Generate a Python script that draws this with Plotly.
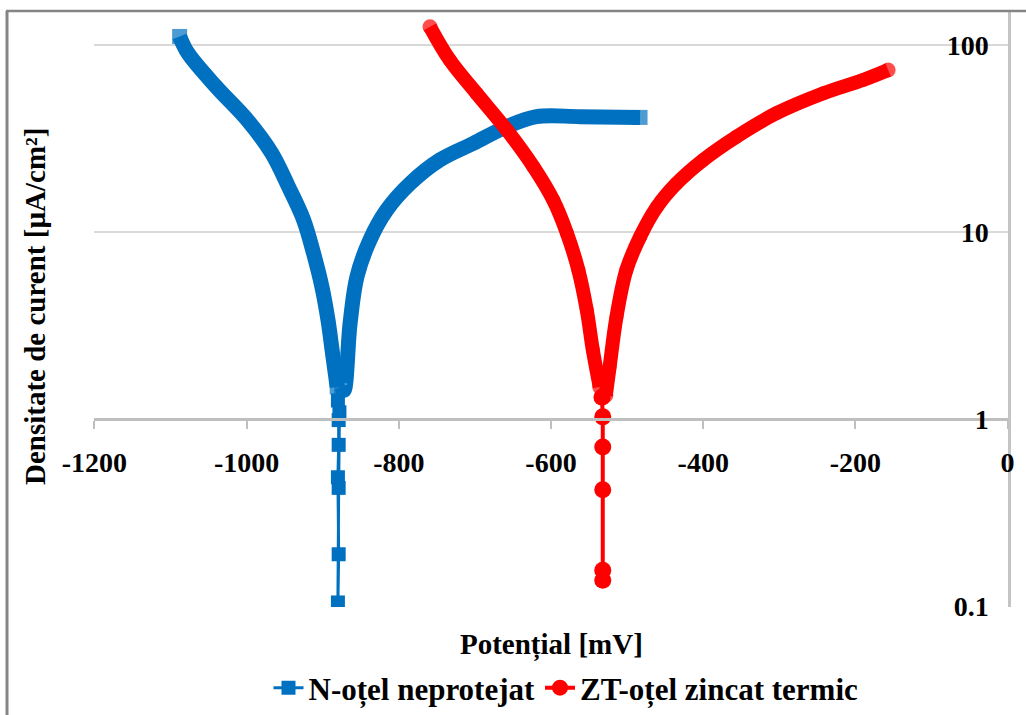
import plotly.graph_objects as go

# ---- data (Potential mV, current density uA/cm2) ----
# N - otel neprotejat (blue)
n_cath_E = [-1088, -1077, -1040, -999, -967, -945, -925, -912, -901, -893, -887, -881]
n_cath_i = [111, 90.3, 59.8, 39.7, 26.4, 17.5, 11.6, 7.7, 5.1, 3.38, 2.24, 1.49]
n_tail_E = [-880, -879, -879, -880, -879, -880, -879, -878]
n_tail_i = [1.26, 0.99, 0.73, 0.49, 0.19, 0.105, 0.43, 1.09]
n_anod_E = [-875, -872, -864, -855, -838, -816, -785, -746, -702, -658, -619, -562, -483]
n_anod_i = [1.49, 1.43, 3.25, 5.77, 9.06, 13.1, 18.2, 24.3, 29.8, 36.6, 41.4, 41.4, 41.0]

# ZT - otel zincat termic (red)
z_cath_E = [-759, -733, -698, -658, -623, -597, -579, -564, -553, -545, -536]
z_cath_i = [125, 83, 55.2, 35.1, 22.3, 14.8, 9.84, 6.26, 3.83, 2.34, 1.49]
z_tail_E = [-534, -533, -532, -532, -532, -532, -532]
z_tail_i = [1.68, 1.31, 1.03, 0.71, 0.42, 0.156, 0.138]
z_anod_E = [-528, -523, -514, -501, -483, -461, -435, -400, -356, -304, -242, -190, -157]
z_anod_i = [1.34, 1.90, 3.52, 6.26, 9.43, 13.6, 18.2, 24.3, 32.4, 43.1, 55.2, 65, 73.5]

x_ticks = [-1200, -1000, -800, -600, -400, -200, 0]
x_ticktext = ["-1200", "-1000", "-800", "-600", "-400", "-200", "0"]
y_ticks = [0.1, 1, 10, 100]
y_ticktext = ["0.1", "1", "10", "100"]

name_n = "N-oțel neprotejat"
name_z = "ZT-oțel zincat termic"
BLUE = "#0070C0"
RED = "#FF0000"
FONT = "Liberation Serif, Times New Roman, Times, DejaVu Serif, serif"

fig = go.Figure()

def band(E, I, color, symbol, width, msize, endsize, group):
    sizes = [msize] * len(E)
    sizes[0] = endsize
    sizes[-1] = endsize
    fig.add_trace(go.Scatter(
        x=E, y=I, mode="lines+markers", legendgroup=group, showlegend=False,
        line=dict(color=color, width=width, shape="spline", smoothing=1.0),
        marker=dict(color=color, symbol=symbol, size=sizes, line=dict(width=0)),
        hoverinfo="skip"))

def tail(E, I, color, symbol, lw, ms, name, group):
    fig.add_trace(go.Scatter(
        x=E, y=I, mode="lines+markers", legendgroup=group, name=name,
        line=dict(color=color, width=lw),
        marker=dict(color=color, symbol=symbol, size=ms, line=dict(width=0))))

band(n_cath_E, n_cath_i, BLUE, "square", 15, 9, 15, "n")
band(n_anod_E, n_anod_i, BLUE, "square", 15, 9, 15, "n")
tail(n_tail_E, n_tail_i, BLUE, "square", 3, 14, name_n, "n")

band(z_cath_E, z_cath_i, RED, "circle", 14, 14, 15, "z")
band(z_anod_E, z_anod_i, RED, "circle", 14, 14, 15, "z")
tail(z_tail_E, z_tail_i, RED, "circle", 4, 17, name_z, "z")

YMIN_LOG = -1.003
YMAX_LOG = 2.176
x_pos = (0 - YMIN_LOG) / (YMAX_LOG - YMIN_LOG)

tick_font = dict(family=FONT, size=28, color="black", weight="bold")
title_font = dict(family=FONT, size=29, color="black", weight="bold")
legend_font = dict(family=FONT, size=31, color="black", weight="bold")

fig.update_xaxes(
    range=[-1200.5, 0.5], tickvals=x_ticks, ticktext=x_ticktext,
    showgrid=False, zeroline=False, showline=True, linecolor="#bfbfbf", linewidth=2.5,
    ticks="outside", ticklen=8, tickwidth=1.5, tickcolor="#bfbfbf",
    anchor="free", position=x_pos, ticklabelstandoff=9, ticklabeloverflow="allow",
    tickfont=tick_font,
)
fig.update_yaxes(
    type="log", range=[YMIN_LOG, YMAX_LOG], tickvals=y_ticks, ticktext=y_ticktext,
    side="right", ticklabelposition="inside", ticklabelstandoff=22, ticklabeloverflow="allow",
    showgrid=True, gridcolor="#d9d9d9", gridwidth=2,
    showline=True, linecolor="#c4c4c4", linewidth=2.5, ticks="",
    zeroline=False, tickfont=tick_font,
)

# pixel -> paper helpers (plot area: x 94..1008, y 12..607)
def px(xp):
    return (xp - 94) / 914.0

def py(yp):
    return (607 - yp) / 595.0

fig.add_annotation(text="Densitate de curent [µA/cm²]", xref="paper", yref="paper",
                   x=px(35), y=py(307), textangle=-90, showarrow=False,
                   font=title_font, xanchor="center", yanchor="middle")
fig.add_annotation(text="Potențial [mV]", xref="paper", yref="paper",
                   x=px(551), y=py(645), showarrow=False,
                   font=title_font, xanchor="center", yanchor="middle")

# outer chart border (left and top edges visible)
fig.add_shape(type="line", xref="paper", yref="paper", x0=px(7), x1=px(7), y0=py(716), y1=py(11),
              line=dict(color="#858585", width=3))
fig.add_shape(type="line", xref="paper", yref="paper", x0=px(6), x1=px(1030), y0=py(11), y1=py(11),
              line=dict(color="#858585", width=2.5))

fig.update_layout(
    width=1026, height=715,
    margin=dict(l=94, r=18, t=12, b=108, autoexpand=False),
    plot_bgcolor="white", paper_bgcolor="white",
    font=dict(family=FONT, size=28, color="black"),
    showlegend=True,
    legend=dict(orientation="h", x=px(566), y=py(688), xanchor="center", yanchor="middle",
                font=legend_font, itemwidth=30, bgcolor="rgba(0,0,0,0)"),
)

fig.write_html("out.html")
